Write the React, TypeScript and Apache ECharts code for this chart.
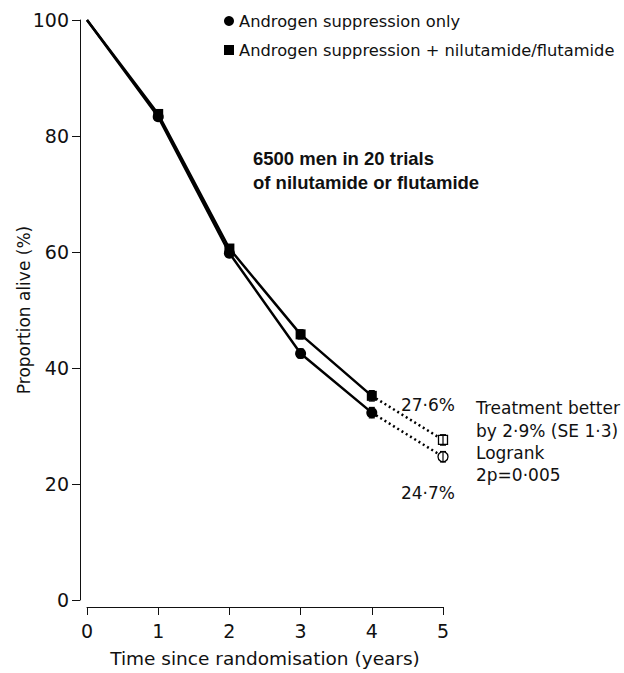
import React, { useEffect, useRef } from "react";
import * as echarts from "echarts";

const years = [0, 1, 2, 3, 4, 5];
const aloneValues = [100, 83.3, 59.8, 42.5, 32.3, 24.7];
const comboValues = [100, 83.8, 60.6, 45.8, 35.2, 27.6];
const aloneSE = [0, 0.5, 0.6, 0.8, 0.9, 0.9];
const comboSE = [0, 0.5, 0.6, 0.8, 0.9, 0.9];
const yTicks = [0, 20, 40, 60, 80, 100];
const nameAlone = "Androgen suppression only";
const nameCombo = "Androgen suppression + nilutamide/flutamide";
const boldNote = ["6500 men in 20 trials", "of nilutamide or flutamide"];
const endLabels = ["27·6%", "24·7%"];
const resultNote = ["Treatment better", "by 2·9% (SE 1·3)", "Logrank", "2p=0·005"];

const FONT = "DejaVu Sans";
const BOLD_FONT = "Liberation Sans";

export default function App() {
  const ref = useRef<HTMLDivElement>(null);
  useEffect(() => {
    if (!ref.current) return;
    const chart = echarts.init(ref.current, null, { renderer: "svg" });

    const solid = (vals: number[], sym: string, size: number) =>
      years.slice(0, 5).map((x, i) => ({
        value: [x, vals[i]],
        symbol: i === 0 ? "none" : sym,
        symbolSize: size,
      }));
    const dotted = (vals: number[]) => [
      { value: [years[4], vals[4]], symbol: "none" },
      { value: [years[5], vals[5]] },
    ];
    const errData = (vals: number[], se: number[]) =>
      years.slice(1).map((x, k) => [x, vals[k + 1] - se[k + 1], vals[k + 1] + se[k + 1]]);

    const errSeries = (vals: number[], se: number[]) => ({
      type: "custom",
      silent: true,
      z: 10,
      data: errData(vals, se),
      encode: { x: 0, y: [1, 2] },
      renderItem: (params: any, api: any) => {
        const x = api.value(0);
        const p1 = api.coord([x, api.value(1)]);
        const p2 = api.coord([x, api.value(2)]);
        const cap = 3;
        const st = { stroke: "#000", lineWidth: 1.2 };
        return {
          type: "group",
          children: [
            { type: "line", shape: { x1: p1[0], y1: p1[1], x2: p2[0], y2: p2[1] }, style: st },
            { type: "line", shape: { x1: p1[0] - cap, y1: p1[1], x2: p1[0] + cap, y2: p1[1] }, style: st },
            { type: "line", shape: { x1: p2[0] - cap, y1: p2[1], x2: p2[0] + cap, y2: p2[1] }, style: st },
          ],
        };
      },
    });

    const txt = (text: string, x: number, y: number, size: number, align = "left", extra: any = {}) => ({
      type: "text",
      x,
      y,
      z: 20,
      style: {
        text,
        fontFamily: FONT,
        fontSize: size,
        fill: "#111",
        align,
        verticalAlign: "middle",
        ...extra,
      },
    });

    chart.setOption({
      animation: false,
      backgroundColor: "#fff",
      textStyle: { fontFamily: FONT, color: "#111" },
      grid: { left: 87, right: 181, top: 20, bottom: 71 },
      xAxis: {
        type: "value",
        min: 0,
        max: 5,
        interval: 1,
        offset: 7,
        name: "Time since randomisation (years)",
        nameLocation: "middle",
        nameGap: 42,
        nameMoveOverlap: false,
        nameTextStyle: { fontFamily: FONT, fontSize: 18.5, color: "#111" },
        axisLine: { onZero: false, lineStyle: { color: "#111", width: 1 } },
        axisTick: { length: 8, lineStyle: { color: "#111" } },
        axisLabel: { fontFamily: FONT, fontSize: 19, color: "#111", margin: 14 },
        splitLine: { show: false },
      },
      yAxis: {
        type: "value",
        min: yTicks[0],
        max: yTicks[yTicks.length - 1],
        interval: 20,
        offset: 7,
        name: "Proportion alive (%)",
        nameLocation: "middle",
        nameGap: 48,
        nameMoveOverlap: false,
        nameTextStyle: { fontFamily: FONT, fontSize: 17, color: "#111" },
        axisLine: { onZero: false, lineStyle: { color: "#111", width: 1 } },
        axisTick: { length: 8, lineStyle: { color: "#111" } },
        axisLabel: { fontFamily: FONT, fontSize: 19, color: "#111", margin: 11 },
        splitLine: { show: false },
      },
      series: [
        {
          name: nameAlone,
          type: "line",
          data: solid(aloneValues, "circle", 11),
          itemStyle: { color: "#000" },
          lineStyle: { color: "#000", width: 2.5 },
          z: 3,
        },
        {
          name: nameCombo,
          type: "line",
          data: solid(comboValues, "rect", 10),
          itemStyle: { color: "#000" },
          lineStyle: { color: "#000", width: 2.5 },
          z: 3,
        },
        {
          name: "alone-extrap",
          type: "line",
          data: dotted(aloneValues),
          symbol: "circle",
          symbolSize: 10,
          itemStyle: { color: "#fff", borderColor: "#000", borderWidth: 1.3 },
          lineStyle: { color: "#000", width: 2.5, type: [2, 3] },
          z: 2,
        },
        {
          name: "combo-extrap",
          type: "line",
          data: dotted(comboValues),
          symbol: "rect",
          symbolSize: 9,
          itemStyle: { color: "#fff", borderColor: "#000", borderWidth: 1.3 },
          lineStyle: { color: "#000", width: 2.5, type: [2, 3] },
          z: 2,
        },
        errSeries(aloneValues, aloneSE),
        errSeries(comboValues, comboSE),
      ],
      graphic: [
        { type: "circle", shape: { cx: 229, cy: 21, r: 5 }, style: { fill: "#000" } },
        { type: "rect", shape: { x: 224, y: 45, width: 10, height: 10 }, style: { fill: "#000" } },
        txt(nameAlone, 239, 21, 16.3),
        txt(nameCombo, 239, 50, 16.3),
        txt(boldNote[0], 253, 158, 18.5, "left", { fontFamily: BOLD_FONT, fontWeight: "bold" }),
        txt(boldNote[1], 253, 182, 18.5, "left", { fontFamily: BOLD_FONT, fontWeight: "bold" }),
        txt(endLabels[0], 455, 405, 17, "right"),
        txt(endLabels[1], 455, 493, 17, "right"),
        txt(resultNote[0], 476, 408, 17),
        txt(resultNote[1], 476, 431, 17),
        txt(resultNote[2], 476, 453, 17),
        txt(resultNote[3], 476, 475, 17),
      ],
    });
    return () => chart.dispose();
  }, []);
  return (
    <div
      ref={ref}
      style={{ position: "fixed", left: 0, top: 0, width: 624, height: 673, background: "#fff" }}
    />
  );
}
